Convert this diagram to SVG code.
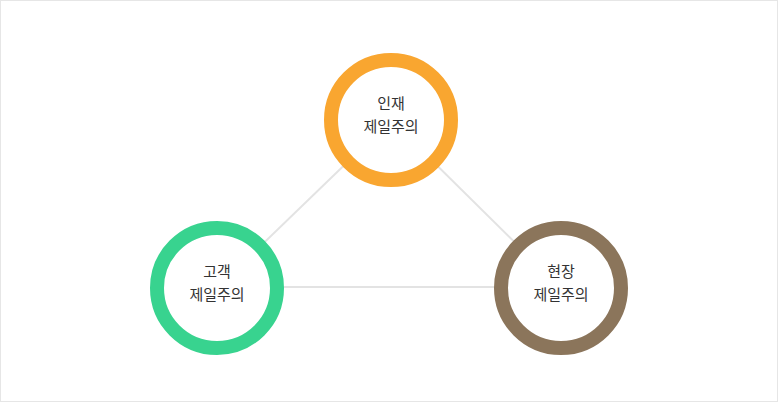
<svg xmlns="http://www.w3.org/2000/svg" width="778" height="402" viewBox="0 0 778 402">
<style>
.ring{fill:#fff;stroke-width:14}
.lbl{font-family:"Noto Sans CJK KR","Noto Sans",sans-serif;font-size:15px;fill:#333;text-anchor:middle}
.conn{stroke:#e3e3e3;stroke-width:2;fill:none}
</style>
<rect x="0.5" y="0.5" width="777" height="401" fill="#fff" stroke="#e6e6e6" stroke-width="1"/>
<g id="connectors">
<line class="conn" x1="391" y1="120" x2="217" y2="288"/>
<line class="conn" x1="391" y1="120" x2="561" y2="288"/>
<line class="conn" x1="217" y1="287" x2="561" y2="287"/>
</g>
<g id="node-talent">
<circle class="ring" cx="391" cy="120" r="60" stroke="#f9a630"/>
<text class="lbl" x="391" y="109">인재</text>
<text class="lbl" x="391" y="132">제일주의</text>
</g>
<g id="node-customer">
<circle class="ring" cx="217" cy="288" r="60" stroke="#38d38f"/>
<text class="lbl" x="217" y="277">고객</text>
<text class="lbl" x="217" y="300">제일주의</text>
</g>
<g id="node-field">
<circle class="ring" cx="561" cy="288" r="60" stroke="#8b755b"/>
<text class="lbl" x="561" y="277">현장</text>
<text class="lbl" x="561" y="300">제일주의</text>
</g>
</svg>
